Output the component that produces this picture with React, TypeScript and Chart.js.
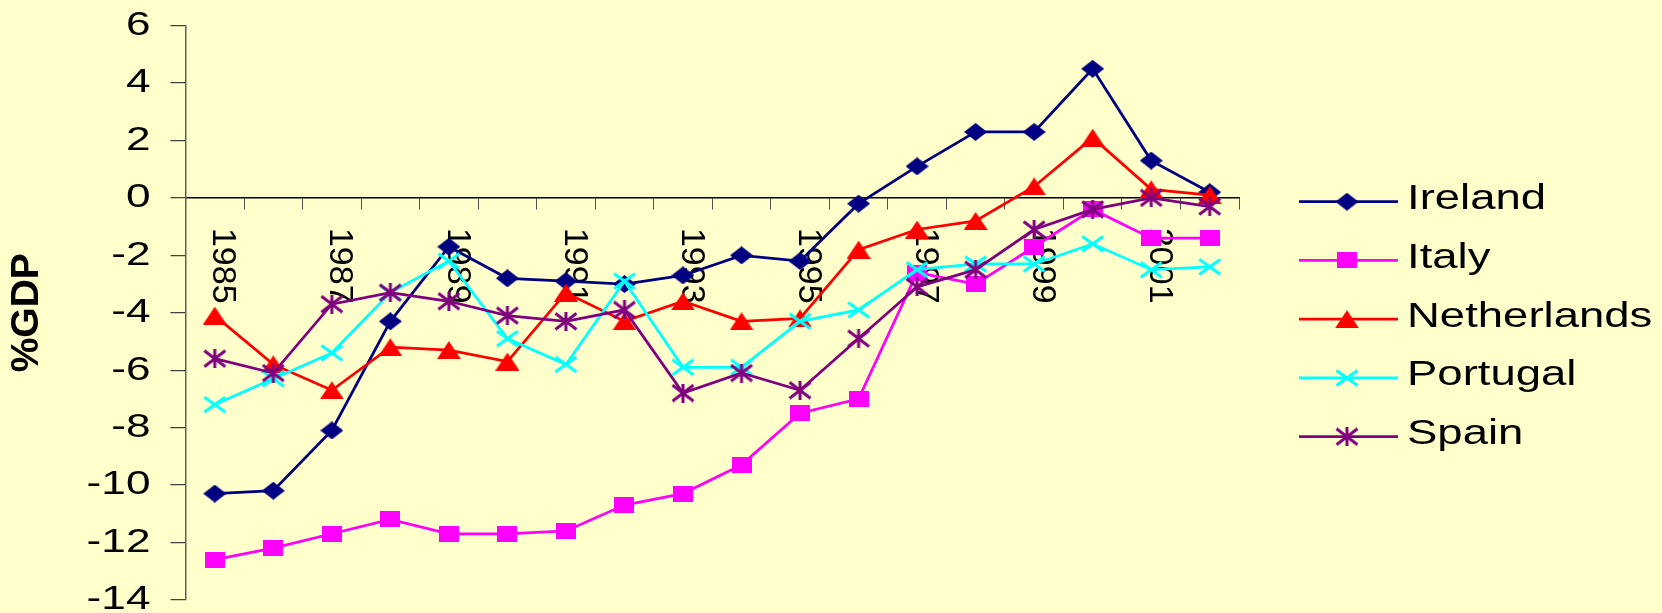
import React, { useEffect, useRef } from 'react';
import { Chart, registerables } from 'chart.js';

Chart.register(...registerables);

// ---- data ----
const years = ['1985', '1986', '1987', '1988', '1989', '1990', '1991', '1992', '1993', '1994', '1995', '1996', '1997', '1998', '1999', '2000', '2001', '2002'];
const ireland = [-10.3, -10.2, -8.1, -4.3, -1.7, -2.8, -2.9, -3.0, -2.7, -2.0, -2.2, -0.2, 1.1, 2.3, 2.3, 4.5, 1.3, 0.2];
const italy = [-12.6, -12.2, -11.7, -11.2, -11.7, -11.7, -11.6, -10.7, -10.3, -9.3, -7.5, -7.0, -2.6, -3.0, -1.7, -0.4, -1.4, -1.4];
const netherlands = [-4.1, -5.8, -6.7, -5.2, -5.3, -5.7, -3.3, -4.3, -3.6, -4.3, -4.2, -1.8, -1.1, -0.8, 0.4, 2.1, 0.3, 0.1];
const portugal = [-7.2, -6.3, -5.4, -3.3, -2.2, -4.9, -5.8, -2.9, -5.9, -5.9, -4.3, -3.9, -2.5, -2.3, -2.3, -1.6, -2.5, -2.4];
const spain = [-5.6, -6.1, -3.7, -3.3, -3.6, -4.1, -4.3, -3.9, -6.8, -6.1, -6.7, -4.9, -3.1, -2.5, -1.1, -0.4, 0.0, -0.3];
const seriesNames = ['Ireland', 'Italy', 'Netherlands', 'Portugal', 'Spain'];
const yTitle = '%GDP';
const yMin = -14;
const yMax = 6;
const yStep = 2;

const FONT = '"Liberation Sans", Arial, Helvetica, sans-serif';
const TEXT_STRETCH = 1.3;

type MarkerKind = 'diamond' | 'square' | 'triangle' | 'cross' | 'star';

function makeMarker(kind: MarkerKind, color: string, w: number, h: number): HTMLCanvasElement {
  const c = document.createElement('canvas');
  c.width = w;
  c.height = h;
  const g = c.getContext('2d') as CanvasRenderingContext2D;
  g.fillStyle = color;
  g.strokeStyle = color;
  g.lineWidth = 3;
  g.lineCap = 'butt';
  g.beginPath();
  if (kind === 'diamond') {
    g.moveTo(w / 2, 0);
    g.lineTo(w, h / 2);
    g.lineTo(w / 2, h);
    g.lineTo(0, h / 2);
    g.closePath();
    g.fill();
  } else if (kind === 'square') {
    g.fillRect(0, 0, w, h);
  } else if (kind === 'triangle') {
    g.moveTo(w / 2, 0);
    g.lineTo(w, h);
    g.lineTo(0, h);
    g.closePath();
    g.fill();
  } else {
    g.moveTo(1.5, 1.5);
    g.lineTo(w - 1.5, h - 1.5);
    g.moveTo(w - 1.5, 1.5);
    g.lineTo(1.5, h - 1.5);
    if (kind === 'star') {
      g.moveTo(w / 2, 0);
      g.lineTo(w / 2, h);
    }
    g.stroke();
  }
  return c;
}

const textPlugin = {
  id: 'excelText',
  beforeDatasetsDraw(chart: any) {
    const { ctx } = chart;
    const xs = chart.scales.x;
    const ys = chart.scales.y;
    const zero = ys.getPixelForValue(0);
    ctx.save();
    ctx.fillStyle = '#000';
    ctx.font = `34px ${FONT}`;
    ctx.textAlign = 'left';
    ctx.textBaseline = 'middle';
    years.forEach((lab, i) => {
      if (i % 2 !== 0) return;
      ctx.save();
      ctx.translate(xs.getPixelForValue(i) + 8, zero + 30);
      ctx.rotate(Math.PI / 2);
      ctx.fillText(lab, 0, 0);
      ctx.restore();
    });
    ctx.restore();
  },
  afterDraw(chart: any) {
    const { ctx, chartArea } = chart;
    const ys = chart.scales.y;
    ctx.save();
    ctx.fillStyle = '#000';
    // y tick labels
    ctx.font = `34px ${FONT}`;
    ctx.textAlign = 'right';
    ctx.textBaseline = 'middle';
    ys.ticks.forEach((t: any) => {
      const py = ys.getPixelForValue(t.value);
      ctx.save();
      ctx.translate(ys.right - 35, py);
      ctx.scale(TEXT_STRETCH, 1);
      ctx.fillText(String(t.value), 0, 0);
      ctx.restore();
    });
    // legend
    const lx0 = chartArea.right + 60;
    const lx1 = chartArea.right + 159;
    const lm = chartArea.right + 108;
    const lt = chartArea.right + 168;
    chart.data.datasets.forEach((ds: any, i: number) => {
      const ly = 201.7 + i * 58.75;
      ctx.strokeStyle = ds.borderColor;
      ctx.lineWidth = 2.75;
      ctx.beginPath();
      ctx.moveTo(lx0, ly);
      ctx.lineTo(lx1, ly);
      ctx.stroke();
      const m = ds.pointStyle as HTMLCanvasElement;
      ctx.drawImage(m, lm - m.width / 2, ly - m.height / 2);
      ctx.save();
      ctx.translate(lt, ly + 7.5);
      ctx.scale(TEXT_STRETCH, 1);
      ctx.font = `35px ${FONT}`;
      ctx.textAlign = 'left';
      ctx.textBaseline = 'alphabetic';
      ctx.fillStyle = '#000';
      ctx.fillText(ds.label, 0, 0);
      ctx.restore();
    });
    ctx.restore();
  },
};

export default function App() {
  const ref = useRef<HTMLCanvasElement | null>(null);

  useEffect(() => {
    if (!ref.current) return;
    const colors = ['#000080', '#FF00FF', '#FF0000', '#00FFFF', '#800080'];
    const markers = [
      makeMarker('diamond', colors[0], 23, 18),
      makeMarker('square', colors[1], 20, 16),
      makeMarker('triangle', colors[2], 24, 18),
      makeMarker('cross', colors[3], 24, 18),
      makeMarker('star', colors[4], 24, 19),
    ];
    const values = [ireland, italy, netherlands, portugal, spain];
    const chart = new Chart(ref.current, {
      type: 'line',
      data: {
        labels: years,
        datasets: values.map((v, i) => ({
          label: seriesNames[i],
          data: v,
          borderColor: colors[i],
          backgroundColor: colors[i],
          borderWidth: 2.75,
          pointStyle: markers[i] as any,
          pointRadius: 10,
          tension: 0,
          fill: false,
          order: values.length - i,
        })),
      },
      options: {
        responsive: false,
        animation: false,
        events: [],
        devicePixelRatio: 1,
        layout: { padding: { left: 0, right: 423, top: 25.7, bottom: 13.2 } },
        plugins: {
          legend: { display: false },
          tooltip: { enabled: false },
          title: { display: false },
        },
        scales: {
          x: {
            type: 'category',
            offset: true,
            position: { y: 0 } as any,
            grid: {
              display: true,
              drawOnChartArea: false,
              drawTicks: true,
              tickLength: 11,
              offset: true,
              color: '#505050',
              lineWidth: 1,
            },
            border: { display: true, color: '#000000', width: 1.5 },
            ticks: { display: false },
            afterFit: (s: any) => {
              s.height = 0;
            },
          },
          y: {
            type: 'linear',
            min: yMin,
            max: yMax,
            ticks: { stepSize: yStep, display: false },
            grid: {
              drawOnChartArea: false,
              drawTicks: true,
              tickLength: 15,
              color: '#404040',
              lineWidth: 1.25,
            },
            border: { display: true, color: '#606060', width: 1.5 },
            title: {
              display: true,
              text: yTitle,
              color: '#000000',
              font: { family: FONT, size: 39, weight: 'bold' },
              padding: { top: 4, bottom: 0 },
            },
            afterFit: (s: any) => {
              s.width = 185.5;
            },
          },
        },
      },
      plugins: [textPlugin],
    });
    return () => chart.destroy();
  }, []);

  return (
    <div
      style={{
        position: 'fixed',
        left: 0,
        top: 0,
        width: 1662,
        height: 613,
        background: '#FFFFCC',
      }}
    >
      <canvas ref={ref} width={1662} height={613} style={{ display: 'block' }} />
    </div>
  );
}
